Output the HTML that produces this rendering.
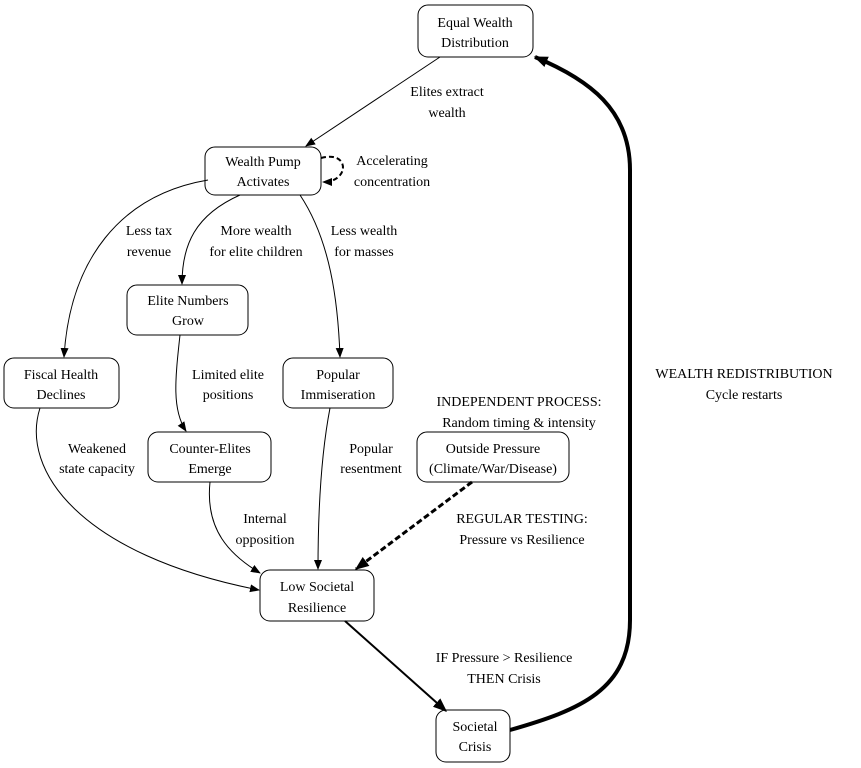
<!DOCTYPE html>
<html><head><meta charset="utf-8"><style>
html,body{margin:0;padding:0;background:#fff;}
svg{display:block;}
text{font-family:"Liberation Serif",serif;font-size:14px;fill:#000;text-anchor:middle;}
</style></head><body>
<svg width="861" height="768" viewBox="0 0 861 768" xmlns="http://www.w3.org/2000/svg">
<defs>
<marker id="a" viewBox="0 0 10 10" refX="9" refY="5" markerWidth="10" markerHeight="10" markerUnits="userSpaceOnUse" orient="auto"><path d="M0,1 L10,5 L0,9 z" fill="#000"/></marker>
<marker id="b" viewBox="0 0 10 10" refX="9" refY="5" markerWidth="14" markerHeight="14" markerUnits="userSpaceOnUse" orient="auto"><path d="M0,1 L10,5 L0,9 z" fill="#000"/></marker>
</defs>
<g fill="none" stroke="#000" stroke-width="1">
<rect x="418" y="5" width="115" height="52" rx="10"/>
<rect x="205" y="147" width="116" height="48" rx="10"/>
<rect x="127" y="285" width="121" height="50" rx="10"/>
<rect x="4" y="358" width="115" height="50" rx="10"/>
<rect x="283" y="358" width="110" height="50" rx="10"/>
<rect x="148" y="432" width="123" height="50" rx="10"/>
<rect x="417" y="432" width="152" height="50" rx="10"/>
<rect x="260" y="570" width="114" height="51" rx="10"/>
<rect x="436" y="710" width="74" height="52" rx="10"/>
<!-- edges -->
<path d="M440,57 L306,146" marker-end="url(#a)"/>
<path d="M321,158 C350,150 350,182 323,182" stroke-dasharray="5,3" stroke-width="2" marker-end="url(#a)"/>
<path d="M208,180 C120,195 70,260 64,357" marker-end="url(#a)"/>
<path d="M240,195 C195,215 182,245 182,284" marker-end="url(#a)"/>
<path d="M300,195 C330,240 338,300 340,357" marker-end="url(#a)"/>
<path d="M180,335 C175,380 172,410 186,431" marker-end="url(#a)"/>
<path d="M40,408 C20,470 80,555 259,590" marker-end="url(#a)"/>
<path d="M210,482 C205,530 230,555 260,573" marker-end="url(#a)"/>
<path d="M330,408 C320,460 318,520 318,569" marker-end="url(#a)"/>
<path d="M472,482 L356,569" stroke-dasharray="6,3" stroke-width="3" marker-end="url(#b)"/>
<path d="M345,621 L446,711" stroke-width="2" marker-end="url(#b)"/>
<path d="M510,730 C580,710 630,690 630,620 L630,170 C630,110 590,80 535,57" stroke-width="4" marker-end="url(#b)"/>
</g>
<text x="475" y="27">Equal Wealth</text><text x="475" y="47">Distribution</text>
<text x="263" y="166">Wealth Pump</text><text x="263" y="186">Activates</text>
<text x="188" y="305">Elite Numbers</text><text x="188" y="325">Grow</text>
<text x="61" y="379">Fiscal Health</text><text x="61" y="399">Declines</text>
<text x="338" y="379">Popular</text><text x="338" y="399">Immiseration</text>
<text x="210" y="453">Counter-Elites</text><text x="210" y="473">Emerge</text>
<text x="493" y="453">Outside Pressure</text><text x="493" y="473">(Climate/War/Disease)</text>
<text x="317" y="591">Low Societal</text><text x="317" y="612">Resilience</text>
<text x="475" y="731">Societal</text><text x="475" y="751">Crisis</text>
<text x="447" y="96">Elites extract</text><text x="447" y="117">wealth</text>
<text x="392" y="165">Accelerating</text><text x="392" y="186">concentration</text>
<text x="149" y="235">Less tax</text><text x="149" y="256">revenue</text>
<text x="256" y="235">More wealth</text><text x="256" y="256">for elite children</text>
<text x="364" y="235">Less wealth</text><text x="364" y="256">for masses</text>
<text x="228" y="379">Limited elite</text><text x="228" y="399">positions</text>
<text x="97" y="453">Weakened</text><text x="97" y="473">state capacity</text>
<text x="371" y="453">Popular</text><text x="371" y="473">resentment</text>
<text x="265" y="523">Internal</text><text x="265" y="544">opposition</text>
<text x="519" y="406">INDEPENDENT PROCESS:</text><text x="519" y="427">Random timing &amp; intensity</text>
<text x="522" y="523">REGULAR TESTING:</text><text x="522" y="544">Pressure vs Resilience</text>
<text x="504" y="662">IF Pressure &gt; Resilience</text><text x="504" y="683">THEN Crisis</text>
<text x="744" y="378">WEALTH REDISTRIBUTION</text><text x="744" y="399">Cycle restarts</text>
</svg>
</body></html>
